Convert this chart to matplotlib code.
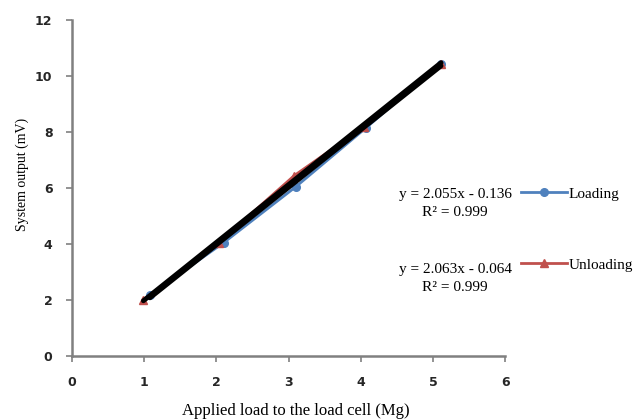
import numpy as np
import matplotlib
matplotlib.use("Agg")
import matplotlib.pyplot as plt

# data
load_x = [1.08, 2.10, 3.10, 4.07, 5.11]
load_y = [2.20, 4.05, 6.05, 8.15, 10.45]
unload_x = [0.99, 2.03, 3.08, 4.05, 5.11]
unload_y = [2.00, 4.05, 6.45, 8.20, 10.45]

# trendline coefficients as printed on the chart
load_fit = (2.055, -0.136)
unload_fit = (2.063, -0.064)
load_eq = "y = 2.055x - 0.136\nR² = 0.999"
unload_eq = "y = 2.063x - 0.064\nR² = 0.999"

xticks = [0, 1, 2, 3, 4, 5, 6]
yticks = [0, 2, 4, 6, 8, 10, 12]

grey = "#808080"
blue = "#4F81BD"
red = "#C0504D"
serif = "Liberation Serif"

fig = plt.figure(figsize=(6.42, 4.19), dpi=100)
ax = fig.add_axes([0.112, 0.150, 0.675, 0.802])

l1, = ax.plot(load_x, load_y, color=blue, marker="o", markersize=5.5, lw=2, label="Loading")
l2, = ax.plot(unload_x, unload_y, color=red, marker="^", markersize=5.5, lw=2, label="Unloading")

# black linear trendlines
for xs, (m, b) in [(load_x, load_fit), (unload_x, unload_fit)]:
    xx = np.array([min(xs), max(xs)])
    ax.plot(xx, m * xx + b, color="black", lw=3.5, solid_capstyle="round", zorder=5)

ax.set_xlim(0, 6)
ax.set_ylim(0, 12)
ax.set_xticks(xticks)
ax.set_yticks(yticks)
for s in ["top", "right"]:
    ax.spines[s].set_visible(False)
for s in ["left", "bottom"]:
    ax.spines[s].set_color(grey)
    ax.spines[s].set_linewidth(1.8)
ax.tick_params(direction="out", length=4, width=1.2, color=grey, labelsize=9, pad=10)
for lab in ax.get_xticklabels() + ax.get_yticklabels():
    lab.set_fontweight("bold")
    lab.set_color("#262626")

ax.set_xlabel("Applied load to the load cell (Mg)", family=serif, fontsize=12)
ax.set_ylabel("System output (mV)", family=serif, fontsize=10)
ax.xaxis.set_label_coords(0.517, -0.14)
ax.yaxis.set_label_coords(-0.10, 0.542)

# equations next to the legend entries
fig.text(0.709, 1 - 188 / 419, load_eq, family=serif, fontsize=11, ha="center", va="top",
         linespacing=1.45)
fig.text(0.709, 1 - 263 / 419, unload_eq, family=serif, fontsize=11, ha="center", va="top",
         linespacing=1.45)

fig.legend(handles=[l1, l2], loc="upper left", bbox_to_anchor=(0.812, 1 - 187 / 419),
           frameon=False, prop={"family": serif, "size": 11}, handlelength=3.0,
           handletextpad=0.1, labelspacing=3.75, borderaxespad=0, borderpad=0)

fig.savefig("out.png", dpi=100)
